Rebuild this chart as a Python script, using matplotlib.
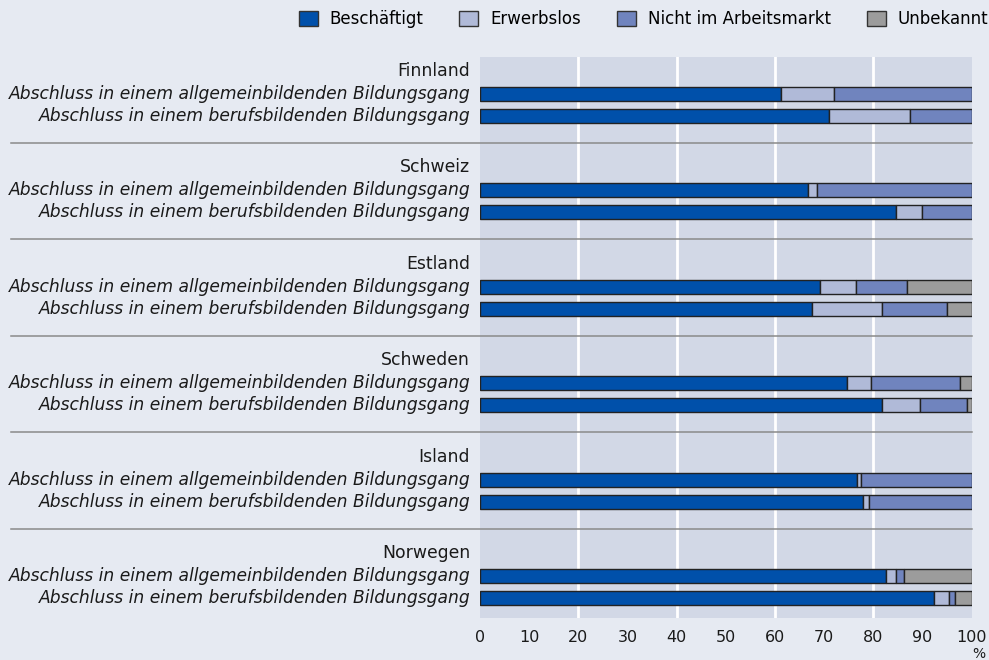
import matplotlib.pyplot as plt
import matplotlib.transforms as mtransforms
from matplotlib.patches import Patch

countries = ["Finnland", "Schweiz", "Estland", "Schweden", "Island", "Norwegen"]
programmes = ["Abschluss in einem allgemeinbildenden Bildungsgang",
              "Abschluss in einem berufsbildenden Bildungsgang"]
categories = ["Beschäftigt", "Erwerbslos", "Nicht im Arbeitsmarkt", "Unbekannt"]

# one value per row: country by country, general then vocational
employed = [61.2, 70.9, 66.7, 84.7, 69.2, 67.6, 74.7, 81.8, 76.7, 77.8, 82.6, 92.3]
unemployed = [10.8, 16.5, 1.9, 5.1, 7.2, 14.2, 4.8, 7.7, 0.8, 1.4, 2.1, 3.1]
inactive = [28.0, 12.6, 31.4, 10.2, 10.5, 13.1, 18.2, 9.6, 22.5, 20.8, 1.6, 1.2]
unknown = [0.0, 0.0, 0.0, 0.0, 13.1, 5.1, 2.3, 0.9, 0.0, 0.0, 13.7, 3.4]

colors = ["#0050AA", "#B0BAD8", "#7084BE", "#9C9C9C"]
bg = "#E6EAF2"
panel = "#D2D8E6"

fig = plt.figure(figsize=(9.89, 6.60), dpi=100, facecolor=bg)
ax = fig.add_axes([480 / 989, 1 - 618 / 660, 491.7 / 989, 561 / 660])
ax.set_facecolor(panel)

group_gap = 4.386
series = [employed, unemployed, inactive, unknown]

ys = []
for i in range(len(countries)):
    base = i * group_gap
    ys += [base + 1, base + 2]

for row, y in enumerate(ys):
    left = 0
    for vals, col in zip(series, colors):
        w = vals[row]
        if w > 0:
            ax.barh(y, w, left=left, height=0.64, color=col,
                    edgecolor="#222222", linewidth=1, zorder=3)
        left += w

trans = mtransforms.blended_transform_factory(ax.transAxes, ax.transData)
for i, c in enumerate(countries):
    base = i * group_gap
    ax.text(-0.02, base - 0.05, c, transform=trans, ha="right", va="center",
            fontsize=12.4, color="#1a1a1a")
    for j, p in enumerate(programmes):
        ax.text(-0.02, base + 1 + j, p, transform=trans, ha="right",
                va="center", fontsize=12.3, style="italic", color="#1a1a1a")
    if i < len(countries) - 1:
        ax.plot([-0.954, 1.0], [base + 3.23] * 2, transform=trans,
                color="#8a8a8a", linewidth=1.1, clip_on=False, zorder=4)

ax.set_xlim(0, 100)
ax.set_ylim(24.83, -0.668)
ax.set_xticks(range(0, 101, 10))
ax.set_yticks([])
for gx in [20, 40, 60, 80]:
    ax.axvline(gx, color="white", linewidth=2, zorder=1)
ax.tick_params(axis="x", length=0, pad=9, labelsize=11.5, colors="#1a1a1a")
for s in ax.spines.values():
    s.set_visible(False)
ax.text(1.015, -0.065, "%", transform=ax.transAxes, ha="center", va="center",
        fontsize=10, color="#1a1a1a")

handles = [Patch(facecolor=c, edgecolor="#333333", linewidth=1) for c in colors]
fig.legend(handles, categories, loc="center left", bbox_to_anchor=(0.2867, 0.971),
           ncol=4, frameon=False, handlelength=1.14, handleheight=1.08,
           handletextpad=0.72, columnspacing=2.15,
           prop={"family": "DejaVu Sans", "size": 12})

fig.savefig("out.png", dpi=100, facecolor=bg)
